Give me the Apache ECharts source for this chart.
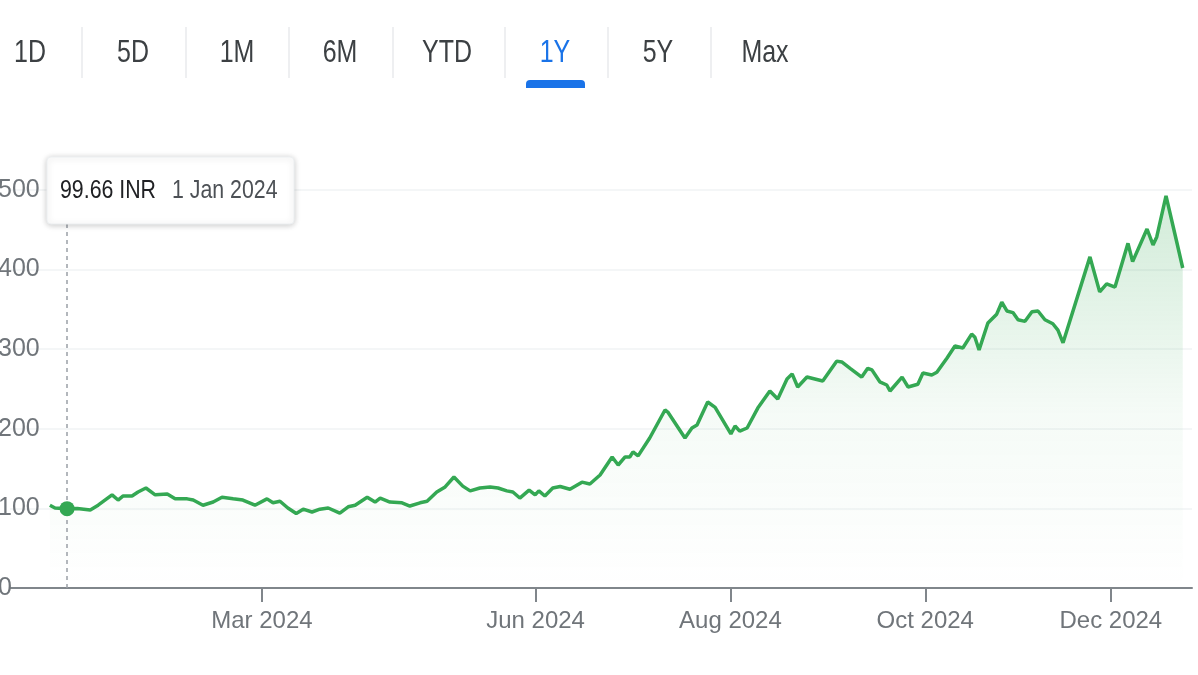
<!DOCTYPE html>
<html>
<head>
<meta charset="utf-8">
<title>1Y</title>
<script src="https://cdn.jsdelivr.net/npm/echarts@6/dist/echarts.min.js"></script>
<style>
html, body { margin: 0; padding: 0; background: #fff; }
#stock { width: 1198px; height: 675px; }
</style>
</head>
<body>
<div id="stock"></div>
<script>
//交易日序号 (0 = 1 Jan 2024)
var tradingDay = [-3.7, -2.6, 0, 2.2, 5.0, 6.7, 9.7, 11.0, 12.1, 14.0, 15.3, 17.0, 19.0, 21.6, 23.3, 25.9, 27.2, 29.3, 31.5, 33.4,
    35.8, 37.9, 40.5, 43.1, 44.4, 45.9, 47.6, 49.4, 50.9, 52.8, 54.5, 56.3, 58.8, 60.6, 62.1, 64.7, 66.4, 67.5, 69.6, 72.2,
    73.9, 76.1, 77.6, 79.7, 81.5, 83.4, 85.3, 86.9, 89.0, 91.2, 92.9, 94.8, 96.1, 97.6, 99.6, 100.9, 101.7, 103.0, 104.7, 106.3,
    108.4, 111.0, 112.7, 114.9, 117.5, 118.8, 120.3, 121.3, 122.0, 123.1, 125.6, 128.9, 129.5, 133.2, 134.7, 135.8, 138.1, 139.7, 143.1, 144.0,
    145.0, 146.6, 148.9, 151.5, 153.2, 155.2, 156.3, 157.5, 159.5, 161.2, 162.9, 165.9, 167.0, 168.8, 171.3, 172.6, 173.5, 175.2, 176.7, 177.4,
    180.0, 181.3, 183.4, 184.5, 186.4, 187.5, 189.7, 191.4, 193.1, 195.0, 195.7, 196.6, 198.5, 200.4, 201.5, 202.6, 203.9, 205.0, 206.5, 208.0,
    209.3, 210.8, 212.5, 213.6, 214.7, 220.5, 222.6, 224.1, 225.9, 228.7, 229.7, 232.8, 234.1, 234.9, 236.9, 239.2, 240.5];

//收盘价 INR
var price = [104, 100.5, 99.66, 100, 98, 104, 117, 110.5, 115.6, 115.6, 120.6, 125.6, 117, 118, 112, 112, 110.5, 104, 108, 114,
    112, 110.5, 104, 112, 107, 109, 100.5, 93.5, 99, 95.5, 99, 100.5, 94, 102, 104, 114, 108, 113, 108, 107,
    103, 107, 109, 120.6, 127, 139.4, 128, 122, 125.6, 127, 125.6, 122, 120.6, 113, 123, 117, 122, 115.6, 125.6, 127.5,
    124, 133, 130.6, 142, 164.6, 154.5, 164.6, 164.6, 171, 166, 188.4, 223.6, 221, 188.4, 201, 204.8, 233.7, 227, 193.5, 203.5,
    197, 201, 226, 247.5, 237.4, 262.6, 269, 252.5, 265, 262.6, 260, 285, 284, 276, 265, 276, 274, 259, 255, 247.5,
    265, 252.5, 256, 270, 267.6, 271, 289, 304, 301.5, 319, 315, 299, 333, 344, 359, 348, 346, 337, 335, 347,
    348, 337, 332, 324, 308, 416, 372, 382, 378, 433, 410, 451, 431, 441, 492.5, 435, 402];

//横轴刻度
var tickDay = [42, 101, 143, 185, 225];
var tickLabel = ['Mar 2024', 'Jun 2024', 'Aug 2024', 'Oct 2024', 'Dec 2024'];

//时间范围按钮
var ranges = ['1D', '5D', '1M', '6M', 'YTD', '1Y', '5Y', 'Max'];
var activeRange = '1Y';

//提示
var pickDay = 0;
var pickPrice = 99.66;
var pickText = '99.66 INR';
var pickDate = '1 Jan 2024';

(function(){

    var myChart = echarts.init(document.getElementById("stock"));
    var font = "'Liberation Sans', Arial, sans-serif";

    var tabCenter = [30, 133, 237, 340, 447, 555, 658, 765];
    var sepX = [82, 186, 289, 393, 505, 608, 711];

    var graphics = [];
    ranges.forEach(function(r, i){
        graphics.push({
            type: 'text',
            x: tabCenter[i],
            y: 53,
            scaleX: 0.78,
            z: 100,
            style: {
                text: r,
                font: '32px ' + font,
                fill: r === activeRange ? '#1a73e8' : '#3c4043',
                align: 'center',
                verticalAlign: 'middle'
            }
        });
        if (r === activeRange) {
            graphics.push({
                type: 'rect',
                z: 100,
                shape: { x: tabCenter[i] - 29, y: 80, width: 59, height: 8, r: [4, 4, 0, 0] },
                style: { fill: '#1a73e8' }
            });
        }
    });
    sepX.forEach(function(x){
        graphics.push({
            type: 'line',
            z: 100,
            shape: { x1: x, y1: 27, x2: x, y2: 78 },
            style: { stroke: '#e8eaed', lineWidth: 1.5 }
        });
    });

    //tooltip 框
    graphics.push({
        type: 'rect',
        z: 100,
        shape: { x: 47, y: 157, width: 247, height: 67, r: 4 },
        style: {
            fill: '#fff',
            stroke: '#eceff1',
            lineWidth: 1,
            shadowBlur: 6,
            shadowOffsetY: 1,
            shadowColor: 'rgba(0,0,0,0.22)'
        }
    });
    graphics.push({
        type: 'text',
        z: 101,
        x: 60,
        y: 191,
        scaleX: 0.82,
        style: { text: pickText, font: '26px ' + font, fill: '#202124', verticalAlign: 'middle' }
    });
    graphics.push({
        type: 'text',
        z: 101,
        x: 172,
        y: 191,
        scaleX: 0.82,
        style: { text: pickDate, font: '26px ' + font, fill: '#4d5156', verticalAlign: 'middle' }
    });

    var lineData = tradingDay.map(function(d, i){ return [d, price[i]]; });

    option = {
        animation: false,
        grid: {
            left: 10,
            right: 6,
            top: 190,
            bottom: 87,
            outerBoundsMode: 'none'
        },
        xAxis: {
            type: 'value',
            min: -12.3,
            max: 242.5,
            splitLine: { show: false },
            axisLine: { show: true, onZero: false, lineStyle: { color: '#80868b', width: 2 } },
            axisTick: {
                show: true,
                customValues: tickDay,
                length: 14,
                inside: false,
                lineStyle: { color: '#80868b', width: 2 }
            },
            axisLabel: {
                customValues: tickDay,
                margin: 21,
                color: '#70757a',
                fontFamily: font,
                fontSize: 24,
                formatter: function(v){
                    var i = tickDay.indexOf(v);
                    return i >= 0 ? tickLabel[i] : '';
                }
            }
        },
        yAxis: {
            type: 'value',
            min: 0,
            max: 500,
            interval: 100,
            axisLine: { show: false },
            axisTick: { show: false },
            splitLine: { lineStyle: { color: '#f1f3f4', width: 1.5 } },
            axisLabel: {
                align: 'left',
                margin: 12,
                color: '#70757a',
                fontFamily: font,
                fontSize: 25
            }
        },
        series: [
            {
                name: 'price',
                type: 'line',
                data: lineData,
                showSymbol: false,
                smooth: false,
                lineStyle: { color: '#34a853', width: 3.5 },
                itemStyle: { color: '#34a853' },
                areaStyle: {
                    color: new echarts.graphic.LinearGradient(0, 0, 0, 1, [
                        { offset: 0, color: 'rgba(52,168,83,0.32)' },
                        { offset: 0.55, color: 'rgba(52,168,83,0.07)' },
                        { offset: 1, color: 'rgba(52,168,83,0)' }
                    ])
                },
                markLine: {
                    symbol: 'none',
                    silent: true,
                    label: { show: false },
                    lineStyle: { color: '#9aa0a6', type: [4, 4], width: 1.5 },
                    data: [{ xAxis: pickDay }]
                }
            },
            {
                name: 'pick',
                type: 'scatter',
                data: [[pickDay, pickPrice]],
                symbolSize: 15,
                itemStyle: { color: '#34a853', opacity: 1 },
                z: 5
            }
        ],
        graphic: graphics
    };

    myChart.setOption(option);
})();
</script>
</body>
</html>
